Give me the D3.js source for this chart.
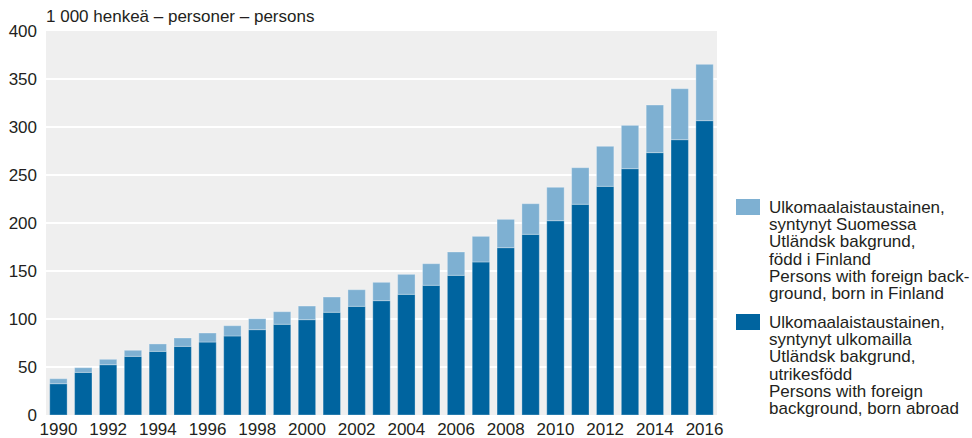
<!DOCTYPE html>
<html>
<head>
<meta charset="utf-8">
<script src="https://cdn.jsdelivr.net/npm/d3@7"></script>
<style>
  html, body { margin: 0; padding: 0; background: #ffffff; }
  svg { display: block; font-family: "Liberation Sans", Arial, Helvetica, sans-serif; }
</style>
</head>
<body>
<svg id="chart" width="972" height="438"></svg>
<script>
const years = d3.range(1990, 2017);
const bornAbroad = [32.6, 44.4, 52.4, 61.1, 66.3, 71.5, 76.0, 82.3, 88.9, 94.5,
  99.3, 107.0, 113.2, 119.1, 125.7, 135.1, 145.5, 159.4, 174.3, 188.2,
  202.4, 219.5, 238.2, 256.6, 273.3, 286.8, 306.6];
const bornFinland = [5.2, 4.9, 5.6, 6.3, 7.7, 8.7, 9.4, 10.7, 11.4, 13.1,
  14.2, 15.9, 17.3, 19.1, 20.8, 22.5, 24.3, 26.7, 29.5, 31.9,
  34.8, 38.1, 41.7, 45.1, 49.6, 53.1, 58.7];
const yTicks = [0, 50, 100, 150, 200, 250, 300, 350, 400];
const xTickYears = d3.range(1990, 2017, 2);
const unitLabel = "1 000 henkeä – personer – persons";
const legendFinland = ["Ulkomaalaistaustainen,", "syntynyt Suomessa", "Utländsk bakgrund,", "född i Finland", "Persons with foreign back-", "ground, born in Finland"];
const legendAbroad = ["Ulkomaalaistaustainen,", "syntynyt ulkomailla", "Utländsk bakgrund,", "utrikesfödd", "Persons with foreign", "background, born abroad"];

const colDark = "#00649f";
const colLight = "#7eb0d2";
const textCol = "#231f20";
const fs = 17;

const svg = d3.select("#chart");
const plot = { left: 46, right: 717, top: 31, bottom: 415 };

const x = d3.scaleBand().domain(years).range([plot.left, plot.right]).paddingInner(0.3).paddingOuter(0.15);
const y = d3.scaleLinear().domain([0, 400]).range([plot.bottom, plot.top]);

// background
svg.append("rect").attr("x", plot.left).attr("y", plot.top)
  .attr("width", plot.right - plot.left).attr("height", plot.bottom - plot.top)
  .attr("fill", "#efefef");

// gridlines
svg.append("g").selectAll("line").data(yTicks.filter(t => t > 0 && t < 400)).join("line")
  .attr("x1", plot.left).attr("x2", plot.right)
  .attr("y1", d => y(d)).attr("y2", d => y(d))
  .attr("stroke", "#ffffff").attr("stroke-width", 2);

// stacked data
const rows = years.map((yr, i) => ({ year: yr, abroad: bornAbroad[i], finland: bornFinland[i] }));
const stack = d3.stack().keys(["abroad", "finland"]);
const series = stack(rows);
const colors = { abroad: colDark, finland: colLight };

svg.append("g").selectAll("g").data(series).join("g")
  .attr("fill", d => colors[d.key])
  .selectAll("rect").data(d => d).join("rect")
  .attr("x", d => x(d.data.year))
  .attr("width", x.bandwidth())
  .attr("y", d => y(d[1]))
  .attr("height", d => y(d[0]) - y(d[1]))
  .attr("stroke", "#ffffff").attr("stroke-opacity", 0.3).attr("stroke-width", 1);

// y axis
const yAxis = d3.axisLeft(y).tickValues(yTicks).tickSize(0).tickPadding(9);
const gy = svg.append("g").attr("transform", `translate(${plot.left},0)`).call(yAxis);
gy.select(".domain").remove();
gy.selectAll("text").attr("font-size", fs).attr("fill", textCol).attr("font-family", null);

// x axis
const xAxis = d3.axisBottom(x).tickValues(xTickYears).tickSize(0).tickPadding(8);
const gx = svg.append("g").attr("transform", `translate(0,${plot.bottom})`).call(xAxis);
gx.select(".domain").remove();
gx.selectAll("text").attr("font-size", fs).attr("fill", textCol).attr("font-family", null);

// unit label
svg.append("text").attr("x", 46).attr("y", 22).attr("font-size", fs).attr("fill", textCol).text(unitLabel);

// legend
function legendGroup(lines, color, top) {
  const g = svg.append("g");
  g.append("rect").attr("x", 736).attr("y", top).attr("width", 24).attr("height", 16).attr("fill", color);
  g.append("text").attr("font-size", fs).attr("fill", textCol)
    .selectAll("tspan").data(lines).join("tspan")
    .attr("x", 769).attr("y", (d, i) => top + 14 + i * 17.2).text(d => d);
}
legendGroup(legendFinland, colLight, 199);
legendGroup(legendAbroad, colDark, 314);
</script>
</body>
</html>
